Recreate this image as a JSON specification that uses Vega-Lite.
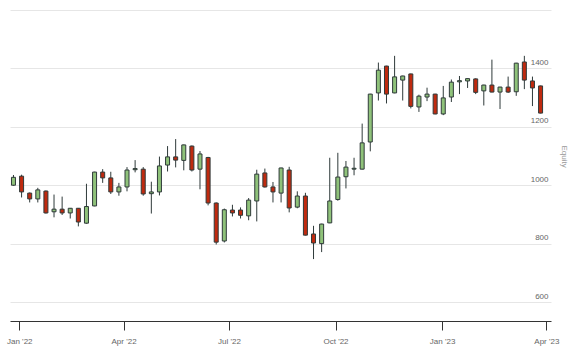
{
  "$schema": "https://vega.github.io/schema/vega-lite/v6.json",
  "width": 541,
  "height": 311,
  "autosize": "none",
  "padding": {"left": 10, "top": 10, "right": 29, "bottom": 39},
  "background": "white",
  "config": {"view": {"stroke": null}, "font": "Liberation Sans"},
  "data": {"values": [
    {"d": "2021-12-27", "o": 1000, "h": 1035, "l": 998, "c": 1027},
    {"d": "2022-01-03", "o": 1031, "h": 1036, "l": 958, "c": 977},
    {"d": "2022-01-10", "o": 973, "h": 975, "l": 941, "c": 953},
    {"d": "2022-01-17", "o": 953, "h": 991, "l": 941, "c": 984},
    {"d": "2022-01-24", "o": 980, "h": 982, "l": 903, "c": 905},
    {"d": "2022-01-31", "o": 909, "h": 968, "l": 890, "c": 918},
    {"d": "2022-02-07", "o": 918, "h": 961, "l": 898, "c": 905},
    {"d": "2022-02-14", "o": 905, "h": 922, "l": 886, "c": 921},
    {"d": "2022-02-21", "o": 921, "h": 922, "l": 859, "c": 874},
    {"d": "2022-02-28", "o": 870, "h": 1005, "l": 868, "c": 927},
    {"d": "2022-03-07", "o": 929, "h": 1046, "l": 928, "c": 1045},
    {"d": "2022-03-14", "o": 1045, "h": 1055, "l": 1008, "c": 1025},
    {"d": "2022-03-21", "o": 1025, "h": 1046, "l": 970, "c": 977},
    {"d": "2022-03-28", "o": 977, "h": 1008, "l": 964, "c": 994},
    {"d": "2022-04-04", "o": 994, "h": 1062, "l": 979, "c": 1052},
    {"d": "2022-04-11", "o": 1053, "h": 1086, "l": 1044, "c": 1057},
    {"d": "2022-04-18", "o": 1055, "h": 1062, "l": 964, "c": 970},
    {"d": "2022-04-25", "o": 971, "h": 1012, "l": 903, "c": 977},
    {"d": "2022-05-02", "o": 977, "h": 1098, "l": 965, "c": 1066},
    {"d": "2022-05-09", "o": 1069, "h": 1134, "l": 1047, "c": 1097},
    {"d": "2022-05-16", "o": 1097, "h": 1158, "l": 1061, "c": 1086},
    {"d": "2022-05-23", "o": 1085, "h": 1139, "l": 1051, "c": 1138},
    {"d": "2022-05-30", "o": 1134, "h": 1136, "l": 1047, "c": 1052},
    {"d": "2022-06-06", "o": 1055, "h": 1117, "l": 986, "c": 1107},
    {"d": "2022-06-13", "o": 1095, "h": 1097, "l": 931, "c": 939},
    {"d": "2022-06-20", "o": 939, "h": 941, "l": 797, "c": 805},
    {"d": "2022-06-27", "o": 809, "h": 920, "l": 804, "c": 916},
    {"d": "2022-07-04", "o": 915, "h": 933, "l": 893, "c": 905},
    {"d": "2022-07-11", "o": 915, "h": 924, "l": 886, "c": 897},
    {"d": "2022-07-18", "o": 895, "h": 956, "l": 880, "c": 949},
    {"d": "2022-07-25", "o": 946, "h": 1053, "l": 876, "c": 1038},
    {"d": "2022-08-01", "o": 1042, "h": 1057, "l": 992, "c": 994},
    {"d": "2022-08-08", "o": 994, "h": 1011, "l": 941, "c": 977},
    {"d": "2022-08-15", "o": 973, "h": 1060, "l": 941, "c": 1059},
    {"d": "2022-08-22", "o": 1052, "h": 1063, "l": 907, "c": 922},
    {"d": "2022-08-29", "o": 925, "h": 979, "l": 921, "c": 963},
    {"d": "2022-09-05", "o": 963, "h": 974, "l": 828, "c": 829},
    {"d": "2022-09-12", "o": 833, "h": 861, "l": 747, "c": 802},
    {"d": "2022-09-19", "o": 800, "h": 868, "l": 771, "c": 867},
    {"d": "2022-09-26", "o": 871, "h": 1094, "l": 870, "c": 946},
    {"d": "2022-10-03", "o": 951, "h": 1111, "l": 947, "c": 1028},
    {"d": "2022-10-10", "o": 1029, "h": 1083, "l": 989, "c": 1062},
    {"d": "2022-10-17", "o": 1055, "h": 1094, "l": 1034, "c": 1058},
    {"d": "2022-10-24", "o": 1055, "h": 1211, "l": 1054, "c": 1145},
    {"d": "2022-10-31", "o": 1148, "h": 1313, "l": 1116, "c": 1312},
    {"d": "2022-11-07", "o": 1316, "h": 1420, "l": 1290, "c": 1394},
    {"d": "2022-11-14", "o": 1408, "h": 1409, "l": 1280, "c": 1312},
    {"d": "2022-11-21", "o": 1316, "h": 1443, "l": 1315, "c": 1371},
    {"d": "2022-11-28", "o": 1360, "h": 1375, "l": 1290, "c": 1374},
    {"d": "2022-12-05", "o": 1381, "h": 1382, "l": 1263, "c": 1270},
    {"d": "2022-12-12", "o": 1268, "h": 1310, "l": 1251, "c": 1305},
    {"d": "2022-12-19", "o": 1302, "h": 1334, "l": 1288, "c": 1312},
    {"d": "2022-12-26", "o": 1312, "h": 1313, "l": 1243, "c": 1244},
    {"d": "2023-01-02", "o": 1244, "h": 1340, "l": 1240, "c": 1299},
    {"d": "2023-01-09", "o": 1302, "h": 1362, "l": 1285, "c": 1353},
    {"d": "2023-01-16", "o": 1354, "h": 1374, "l": 1312, "c": 1358},
    {"d": "2023-01-23", "o": 1357, "h": 1366, "l": 1333, "c": 1365},
    {"d": "2023-01-30", "o": 1364, "h": 1366, "l": 1312, "c": 1318},
    {"d": "2023-02-06", "o": 1323, "h": 1344, "l": 1273, "c": 1343},
    {"d": "2023-02-13", "o": 1343, "h": 1430, "l": 1318, "c": 1319},
    {"d": "2023-02-20", "o": 1319, "h": 1337, "l": 1261, "c": 1336},
    {"d": "2023-02-27", "o": 1336, "h": 1372, "l": 1316, "c": 1319},
    {"d": "2023-03-06", "o": 1320, "h": 1419, "l": 1306, "c": 1418},
    {"d": "2023-03-13", "o": 1422, "h": 1443, "l": 1329, "c": 1360},
    {"d": "2023-03-20", "o": 1357, "h": 1372, "l": 1271, "c": 1333},
    {"d": "2023-03-27", "o": 1340, "h": 1341, "l": 1246, "c": 1247}
  ]},
  "encoding": {
    "x": {
      "field": "d",
      "type": "temporal",
      "scale": {
        "type": "utc",
        "padding": 0,
        "domain": [
          {"year": 2021, "month": 12, "date": 24, "utc": true},
          {"year": 2023, "month": 4, "date": 5, "utc": true}
        ]
      },
      "axis": {
        "title": null,
        "values": [
          {"year": 2022, "month": 1, "date": 1, "utc": true},
          {"year": 2022, "month": 4, "date": 1, "utc": true},
          {"year": 2022, "month": 7, "date": 1, "utc": true},
          {"year": 2022, "month": 10, "date": 1, "utc": true},
          {"year": 2023, "month": 1, "date": 1, "utc": true},
          {"year": 2023, "month": 4, "date": 1, "utc": true}
        ],
        "format": "%b '%y",
        "grid": false,
        "labelFlush": false,
        "labelOverlap": false,
        "labelFontSize": 8,
        "labelColor": "#666666",
        "domainColor": "#333333",
        "domainWidth": 1,
        "tickColor": "#333333",
        "tickSize": 9,
        "labelPadding": 7
      }
    }
  },
  "layer": [
    {
      "mark": {"type": "rule", "color": "#2f3a3a", "strokeWidth": 1},
      "encoding": {
        "y": {
          "field": "l",
          "type": "quantitative",
          "scale": {"domain": [535, 1600], "nice": false, "zero": false, "padding": 0},
          "axis": {
            "orient": "right",
            "title": "Equity",
            "values": [600, 800, 1000, 1200, 1400, 1600],
            "format": "d",
            "labelExpr": "datum.value >= 1600 ? '' : datum.label",
            "domain": false,
            "ticks": false,
            "tickSize": 0,
            "labelAlign": "right",
            "labelBaseline": "bottom",
            "labelPadding": -3,
            "labelOffset": -2,
            "labelFontSize": 8,
            "labelColor": "#666666",
            "grid": true,
            "gridColor": "#e6e6e6",
            "gridWidth": 1,
            "titleFontSize": 8,
            "titleFontWeight": "normal",
            "titleColor": "#999999",
            "titleAngle": 90,
            "titleX": 12,
            "titleY": 146,
            "titleAlign": "center",
            "titleBaseline": "middle"
          }
        },
        "y2": {"field": "h"}
      }
    },
    {
      "mark": {"type": "bar", "size": 4, "stroke": "#2f3a3a", "strokeWidth": 1},
      "encoding": {
        "y": {"field": "o", "type": "quantitative"},
        "y2": {"field": "c"},
        "fill": {
          "condition": {"test": "datum.c >= datum.o", "value": "#8fc27a"},
          "value": "#bf2a0f"
        }
      }
    }
  ]
}
